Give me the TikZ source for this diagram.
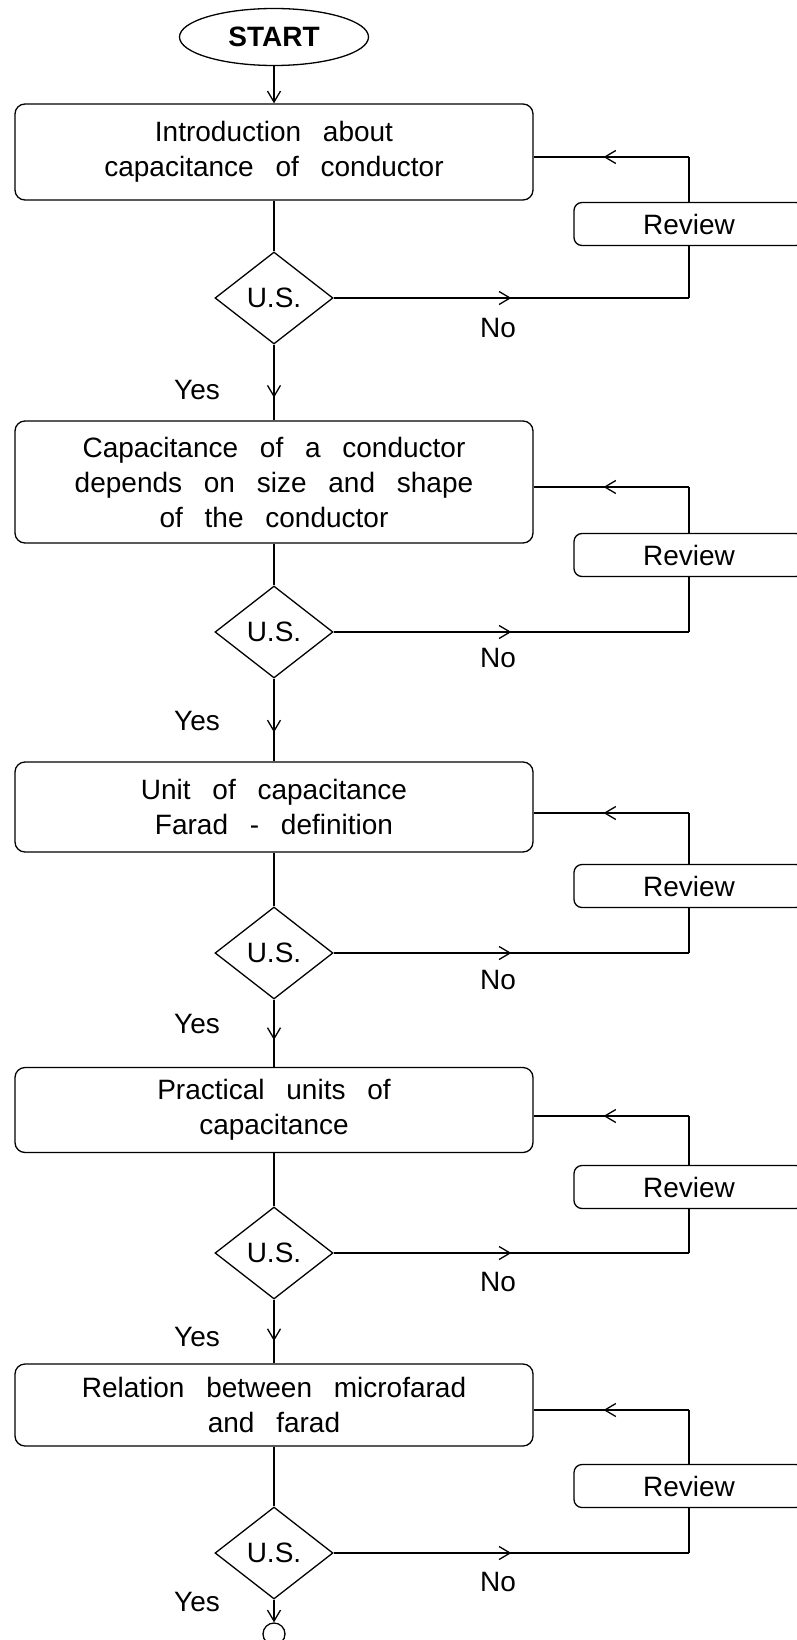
\documentclass[tikz,border=0pt]{standalone}
\usepackage{fontspec}
\setmainfont{Liberation Sans}[WordSpace=2.8]
\usetikzlibrary{shapes.geometric,arrows.meta,decorations.markings}

\begin{document}
\begin{tikzpicture}[x=1pt, y=-1pt, line width=1.3pt,
		>={Straight Barb[length=11pt,width=13pt]},
		every node/.style={font=\fontsize{28pt}{35pt}\selectfont},
		startvertex/.style={ellipse,draw,minimum width=189pt,minimum height=57pt,inner sep=0pt,
			font=\fontsize{28pt}{35pt}\selectfont\bfseries},
		stepbox/.style={rectangle,draw,rounded corners=10pt,minimum width=518pt,inner sep=0pt,align=center},
		testvertex/.style={diamond,draw,minimum width=118pt,minimum height=92pt,inner sep=0pt},
		reviewbox/.style={rectangle,draw,rounded corners=8pt,minimum width=230pt,minimum height=43pt,inner sep=0pt},
		endvertex/.style={circle,draw,minimum size=22pt,inner sep=0pt},
		midarrow/.style={postaction={decorate},decoration={markings,mark=at position #1 with {\arrow{>}}}},
		midarrow/.default=0.5
		]
		\path[use as bounding box, clip] (0,0) rectangle (797,1640);

		\node[startvertex](S0) at (274,37){START};
		\node[stepbox, minimum height=96pt, node distance=115pt, below of = S0](S1){Introduction about\\capacitance of conductor};
		\node[testvertex, node distance=146pt, below of = S1](D1){U.S.};
		\node[stepbox, minimum height=122pt, node distance=184pt, below of = D1](S2){Capacitance of a conductor\\depends on size and shape\\of the conductor};
		\node[testvertex, node distance=150pt, below of = S2](D2){U.S.};
		\node[stepbox, minimum height=90pt, node distance=175pt, below of = D2](S3){Unit of capacitance\\Farad - definition};
		\node[testvertex, node distance=146pt, below of = S3](D3){U.S.};
		\node[stepbox, minimum height=85pt, node distance=157pt, below of = D3](S4){Practical units of\\capacitance};
		\node[testvertex, node distance=143pt, below of = S4](D4){U.S.};
		\node[stepbox, minimum height=82pt, node distance=152pt, below of = D4](S5){Relation between microfarad\\and farad};
		\node[testvertex, node distance=148pt, below of = S5](D5){U.S.};
		\node[endvertex, node distance=81pt, below of = D5](E0){};

		% review boxes
		\node[reviewbox, node distance=415pt, right of = D1, yshift=74pt](R1){Review};
		\node[reviewbox, node distance=415pt, right of = D2, yshift=77pt](R2){Review};
		\node[reviewbox, node distance=415pt, right of = D3, yshift=67pt](R3){Review};
		\node[reviewbox, node distance=415pt, right of = D4, yshift=66pt](R4){Review};
		\node[reviewbox, node distance=415pt, right of = D5, yshift=67pt](R5){Review};

		% labels
		\node[node distance=92pt, below of = D1, xshift=-77pt](Yes1){Yes};
		\node[node distance=89pt, below of = D2, xshift=-77pt](Yes2){Yes};
		\node[node distance=71pt, below of = D3, xshift=-77pt](Yes3){Yes};
		\node[node distance=84pt, below of = D4, xshift=-77pt](Yes4){Yes};
		\node[node distance=49pt, below of = D5, xshift=-77pt](Yes5){Yes};
		\node[node distance=224pt, right of = D1, yshift=-30pt](No1){No};
		\node[node distance=224pt, right of = D2, yshift=-26pt](No2){No};
		\node[node distance=224pt, right of = D3, yshift=-27pt](No3){No};
		\node[node distance=224pt, right of = D4, yshift=-29pt](No4){No};
		\node[node distance=224pt, right of = D5, yshift=-29pt](No5){No};

		% main line
		\draw[->] (S0) -- (S1);
		\draw (S1) -- (D1);
		\draw[midarrow=0.7] (D1) -- (S2);
		\draw (S2) -- (D2);
		\draw[midarrow=0.65] (D2) -- (S3);
		\draw (S3) -- (D3);
		\draw[midarrow=0.6] (D3) -- (S4);
		\draw (S4) -- (D4);
		\draw[midarrow=0.65] (D4) -- (S5);
		\draw (S5) -- (D5);
		\draw[->] (D5) -- (E0);

		% loops back through review
		\coordinate[yshift=-5pt] (G1) at (S1.east);
		\coordinate (F1) at (G1 -| R1.north);
		\coordinate (C1) at (D1.east -| R1.south);
		\draw[midarrow] (D1.east) -- (C1);
		\draw (C1) -- (R1.south);
		\draw (R1.north) -- (F1);
		\draw[midarrow=0.55] (F1) -- (G1);

		\coordinate[yshift=-5pt] (G2) at (S2.east);
		\coordinate (F2) at (G2 -| R2.north);
		\coordinate (C2) at (D2.east -| R2.south);
		\draw[midarrow] (D2.east) -- (C2);
		\draw (C2) -- (R2.south);
		\draw (R2.north) -- (F2);
		\draw[midarrow=0.55] (F2) -- (G2);

		\coordinate[yshift=-6pt] (G3) at (S3.east);
		\coordinate (F3) at (G3 -| R3.north);
		\coordinate (C3) at (D3.east -| R3.south);
		\draw[midarrow] (D3.east) -- (C3);
		\draw (C3) -- (R3.south);
		\draw (R3.north) -- (F3);
		\draw[midarrow=0.55] (F3) -- (G3);

		\coordinate[yshift=-6pt] (G4) at (S4.east);
		\coordinate (F4) at (G4 -| R4.north);
		\coordinate (C4) at (D4.east -| R4.south);
		\draw[midarrow] (D4.east) -- (C4);
		\draw (C4) -- (R4.south);
		\draw (R4.north) -- (F4);
		\draw[midarrow=0.55] (F4) -- (G4);

		\coordinate[yshift=-5pt] (G5) at (S5.east);
		\coordinate (F5) at (G5 -| R5.north);
		\coordinate (C5) at (D5.east -| R5.south);
		\draw[midarrow] (D5.east) -- (C5);
		\draw (C5) -- (R5.south);
		\draw (R5.north) -- (F5);
		\draw[midarrow=0.55] (F5) -- (G5);
	\end{tikzpicture}
\end{document}
